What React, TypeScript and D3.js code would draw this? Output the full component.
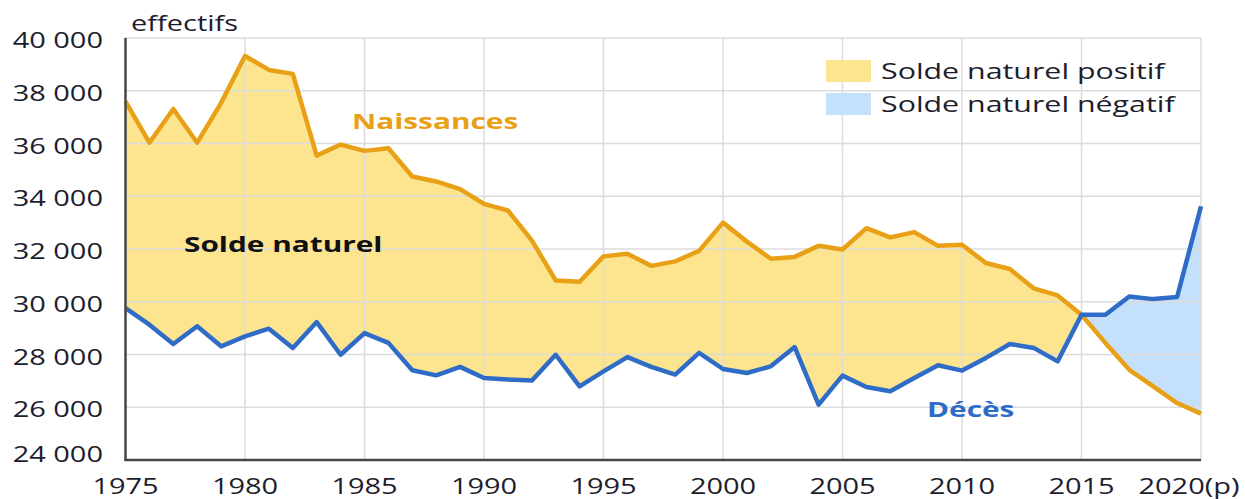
import React, { useRef, useEffect } from 'react'
import { select, scaleLinear, area, line, formatLocale } from 'd3'

const years = [1975, 1976, 1977, 1978, 1979, 1980, 1981, 1982, 1983, 1984, 1985, 1986, 1987, 1988, 1989,
  1990, 1991, 1992, 1993, 1994, 1995, 1996, 1997, 1998, 1999, 2000, 2001, 2002, 2003, 2004, 2005,
  2006, 2007, 2008, 2009, 2010, 2011, 2012, 2013, 2014, 2015, 2016, 2017, 2018, 2019, 2020]

const naissances = [37600, 36030, 37310, 36030, 37540, 39320, 38790, 38640, 35540, 35960, 35720, 35820, 34750, 34560, 34270,
  33710, 33460, 32330, 30810, 30760, 31720, 31820, 31360, 31530, 31930, 33000, 32280, 31630, 31700, 32120, 31980,
  32790, 32440, 32640, 32120, 32160, 31470, 31240, 30510, 30240, 29510, 28440, 27420, 26790, 26160, 25760]

const deces = [29760, 29130, 28400, 29070, 28310, 28690, 28980, 28250, 29230, 27990, 28810, 28440, 27400, 27210, 27530,
  27110, 27050, 27010, 27990, 26790, 27360, 27900, 27530, 27240, 28060, 27450, 27300, 27550, 28280, 26100, 27200,
  26770, 26610, 27110, 27590, 27390, 27870, 28400, 28250, 27740, 29510, 29510, 30200, 30100, 30180, 33620]

const yTicks = [24000, 26000, 28000, 30000, 32000, 34000, 36000, 38000, 40000]
const xTicks = [1975, 1980, 1985, 1990, 1995, 2000, 2005, 2010, 2015, 2020]
const xTickLabels = ['1975', '1980', '1985', '1990', '1995', '2000', '2005', '2010', '2015', '2020(p)']
const legendLabels = ['Solde naturel positif', 'Solde naturel négatif']

const W = 1245
const H = 499
const SX = 1.38 // the original picture is stretched horizontally
const FONT = '"Open Sans", "Noto Sans", sans-serif'
const ORANGE = '#e8a117'
const YELLOW = '#fde48e'
const BLUE = '#2f6cc8'
const LIGHTBLUE = '#c5e0fb'
const INK = '#1d1d2c'

export default function App() {
  const canvas = useRef(null)

  useEffect(() => {
    const svg = select(canvas.current)
    svg.selectAll('*').remove()

    const x = scaleLinear().domain([1975, 2020]).range([125.5, 1201])
    const y = scaleLinear().domain([24000, 40000]).range([460, 38])

    const data = years.map((yr, i) => ({ yr, b: naissances[i], d: deces[i] }))
    const fmt = formatLocale({ decimal: ',', thousands: ' ', grouping: [3], currency: ['', '€'] }).format(',')

    const text = (g, px, py, str, opts) => {
      return g.append('text')
        .attr('transform', `translate(${px},${py}) scale(${SX},1)`)
        .attr('text-anchor', opts.anchor || 'start')
        .attr('font-family', FONT)
        .attr('font-size', opts.size || 21)
        .attr('font-weight', opts.weight || 400)
        .attr('fill', opts.fill || INK)
        .text(str)
    }

    // clip paths for the difference areas
    const defs = svg.append('defs')
    defs.append('clipPath').attr('id', 'clip-below').append('path').datum(data)
      .attr('d', area().x(d => x(d.yr)).y0(460).y1(d => y(d.b)))
    defs.append('clipPath').attr('id', 'clip-above').append('path').datum(data)
      .attr('d', area().x(d => x(d.yr)).y0(0).y1(d => y(d.b)))

    svg.append('path').datum(data).attr('clip-path', 'url(#clip-below)').attr('fill', YELLOW)
      .attr('d', area().x(d => x(d.yr)).y0(d => y(d.d)).y1(0))
    svg.append('path').datum(data).attr('clip-path', 'url(#clip-above)').attr('fill', LIGHTBLUE)
      .attr('d', area().x(d => x(d.yr)).y0(d => y(d.d)).y1(460))

    // grid
    const grid = svg.append('g').attr('stroke', '#dcdcdc').attr('stroke-width', 1.5)
    yTicks.forEach(t => grid.append('line').attr('x1', x(1975)).attr('x2', x(2020)).attr('y1', y(t)).attr('y2', y(t)))
    xTicks.forEach(t => grid.append('line').attr('x1', x(t)).attr('x2', x(t)).attr('y1', y(40000)).attr('y2', y(24000)))

    // lines
    svg.append('path').datum(data).attr('fill', 'none').attr('stroke', ORANGE).attr('stroke-width', 4.5)
      .attr('stroke-linejoin', 'round').attr('d', line().x(d => x(d.yr)).y(d => y(d.b)))
    svg.append('path').datum(data).attr('fill', 'none').attr('stroke', BLUE).attr('stroke-width', 4.5)
      .attr('stroke-linejoin', 'round').attr('d', line().x(d => x(d.yr)).y(d => y(d.d)))

    // axes
    svg.append('line').attr('x1', x(1975)).attr('x2', x(1975)).attr('y1', y(40000)).attr('y2', y(24000) + 1)
      .attr('stroke', '#474747').attr('stroke-width', 2.5)
    svg.append('line').attr('x1', x(1975) - 1).attr('x2', x(2020)).attr('y1', y(24000)).attr('y2', y(24000))
      .attr('stroke', '#474747').attr('stroke-width', 2.5)

    const labels = svg.append('g')
    yTicks.forEach(t => text(labels, 103, y(t) + (t === 24000 ? 2 : 10), fmt(t), { anchor: 'end' }))
    xTicks.forEach((t, i) => text(labels, x(t) - (i === xTicks.length - 1 ? 12 : 0), 494, xTickLabels[i], { anchor: 'middle' }))
    text(labels, 131, 31, 'effectifs', {})

    // annotations
    text(labels, 352, 129, 'Naissances', { weight: 700, fill: ORANGE, size: 21.6 })
    text(labels, 184, 252, 'Solde naturel', { weight: 700, fill: '#111', size: 21.6 })
    text(labels, 927, 417, 'Décès', { weight: 700, fill: BLUE, size: 21.6 })

    // legend
    const leg = svg.append('g')
    ;[YELLOW, LIGHTBLUE].forEach((c, i) => {
      leg.append('rect').attr('x', 826).attr('y', 60 + i * 33).attr('width', 45).attr('height', 22).attr('fill', c)
      text(leg, 881, 79 + i * 33, legendLabels[i], { size: 22 })
    })
  })

  return (
    <svg ref={canvas} width={W} height={H} style={{ position: 'absolute', left: 0, top: 0, background: '#fff' }} />
  )
}
